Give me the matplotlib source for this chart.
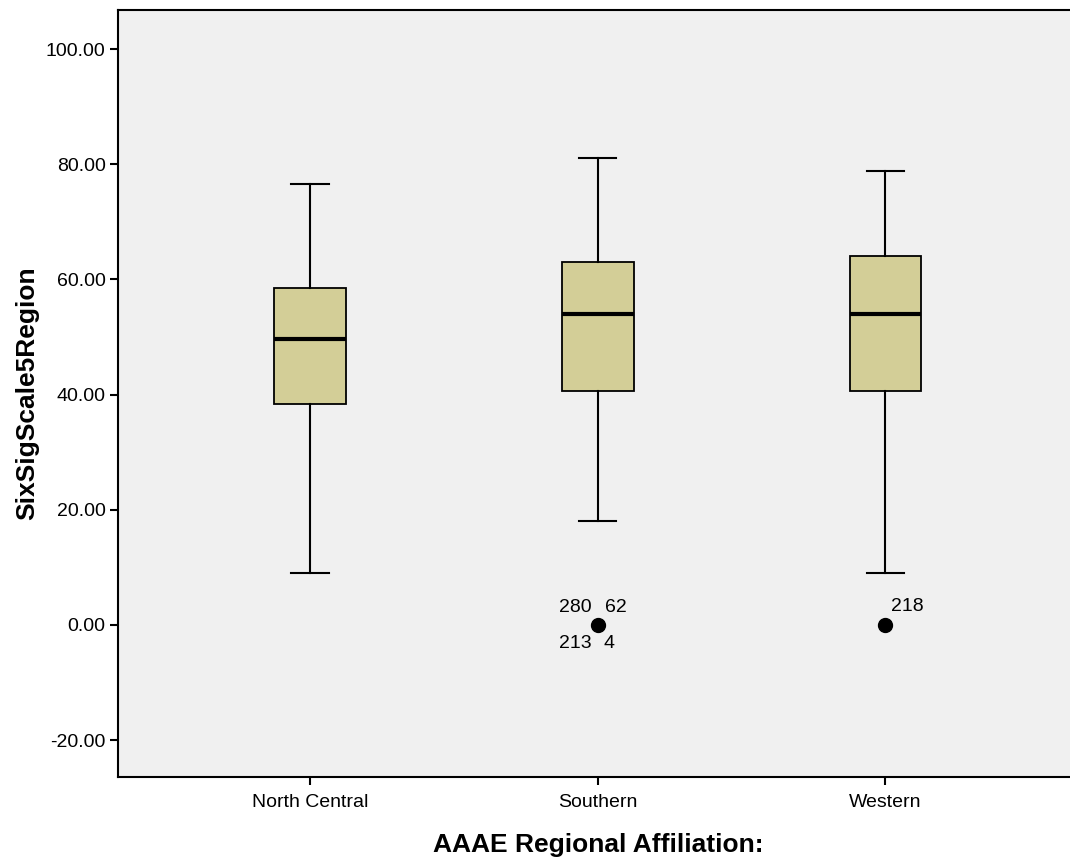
import matplotlib
matplotlib.use("Agg")
import matplotlib.pyplot as plt

categories = ["North Central", "Southern", "Western"]
whisker_low = [9.0, 18.0, 9.0]
q1 = [38.4, 40.6, 40.6]
median = [49.6, 54.0, 54.0]
q3 = [58.5, 63.0, 64.1]
whisker_high = [76.6, 81.1, 78.8]
outliers = [[], [0.0], [0.0]]
outlier_labels = [[], ["280", "62", "213", "4"], ["218"]]
yticks = [-20, 0, 20, 40, 60, 80, 100]

plt.rcParams['font.family'] = ['Liberation Sans', 'DejaVu Sans']

fig = plt.figure(figsize=(10.7, 8.6), dpi=100)
ax = fig.add_axes([118/1070, 83/860, 960/1070, 767/860])
ax.set_facecolor('#f0f0f0')

stats = []
for i, c in enumerate(categories):
    stats.append(dict(label=c, whislo=whisker_low[i], q1=q1[i], med=median[i],
                      q3=q3[i], whishi=whisker_high[i], fliers=outliers[i]))
pos = [1, 2, 3]
ax.bxp(stats, positions=pos, widths=0.25, patch_artist=True, showfliers=True,
       boxprops=dict(facecolor='#d3ce97', edgecolor='black', linewidth=1.3),
       medianprops=dict(color='black', linewidth=3),
       whiskerprops=dict(color='black', linewidth=1.5),
       capprops=dict(color='black', linewidth=1.5),
       capwidths=0.13,
       flierprops=dict(marker='o', markerfacecolor='black', markeredgecolor='black', markersize=10))

fs = 14
s = 1
ax.text(pos[s] - 0.02, outliers[s][0] + 1.5, outlier_labels[s][0], ha='right', va='bottom', fontsize=fs)
ax.text(pos[s] + 0.025, outliers[s][0] + 1.5, outlier_labels[s][1], ha='left', va='bottom', fontsize=fs)
ax.text(pos[s] - 0.02, outliers[s][0] - 1.8, outlier_labels[s][2], ha='right', va='top', fontsize=fs)
ax.text(pos[s] + 0.02, outliers[s][0] - 1.8, outlier_labels[s][3], ha='left', va='top', fontsize=fs)
w = 2
ax.text(pos[w] + 0.02, outliers[w][0] + 1.8, outlier_labels[w][0], ha='left', va='bottom', fontsize=fs)

ax.set_xlim(0.333, 3.639 + 0.03)
ax.set_ylim(-26.4, 106.8)
ax.set_yticks(yticks)
ax.set_yticklabels([f"{v:.2f}" for v in yticks], fontsize=14)
ax.set_xticks(pos)
ax.set_xticklabels(categories, fontsize=14)
ax.tick_params(axis='both', direction='out', length=6, width=1.5, colors='black')
ax.tick_params(axis='x', pad=6)
ax.tick_params(axis='y', pad=3)
for sp in ax.spines.values():
    sp.set_linewidth(1.5)
ax.spines['right'].set_visible(False)

ax.set_ylabel("SixSigScale5Region", fontsize=19, fontweight='bold', labelpad=5)
ax.set_xlabel("AAAE Regional Affiliation:", fontsize=19, fontweight='bold', labelpad=16)

fig.savefig("out.png", dpi=100)
